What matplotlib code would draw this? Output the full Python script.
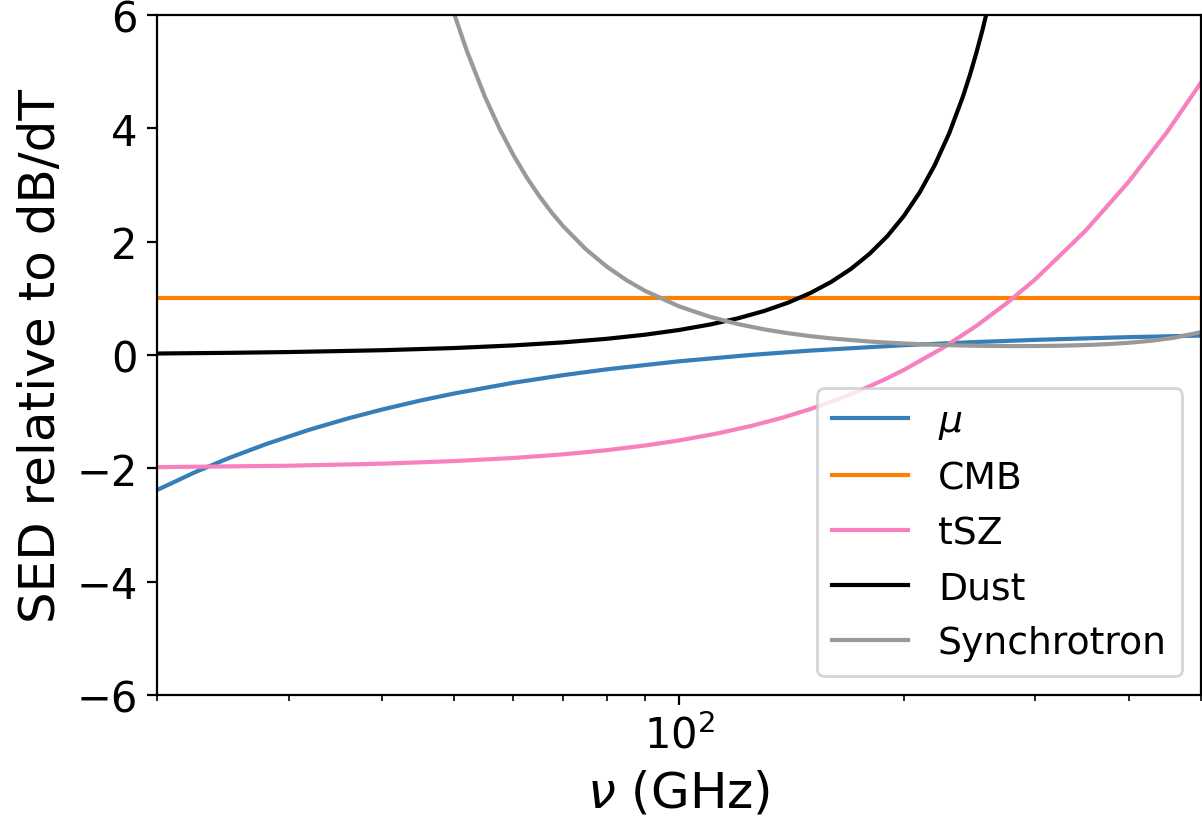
import matplotlib
matplotlib.use("Agg")
import matplotlib.pyplot as plt

# Frequency grids (GHz) and SED values relative to dB/dT for each component
freq_mu = [20, 22.5, 25, 28, 32, 36, 40, 45, 50, 60, 70, 80, 100, 125, 150,
           200, 250, 300, 400, 500]
sed_mu = [-2.383, -2.067, -1.815, -1.572, -1.318, -1.121, -0.963, -0.805,
          -0.679, -0.490, -0.355, -0.253, -0.111, 0.002, 0.078, 0.173,
          0.229, 0.267, 0.315, 0.343]

freq_cmb = [20, 500]
sed_cmb = [1.0, 1.0]

freq_tsz = [20, 30, 40, 50, 60, 70, 80, 90, 100, 112.5, 125, 137.5, 150,
            162.5, 175, 187.5, 200, 225, 250, 275, 300, 350, 400, 450, 500]
sed_tsz = [-1.979, -1.954, -1.918, -1.872, -1.817, -1.753, -1.680, -1.598,
           -1.508, -1.385, -1.251, -1.107, -0.953, -0.792, -0.622, -0.446,
           -0.264, 0.116, 0.511, 0.919, 1.336, 2.189, 3.056, 3.929, 4.807]

freq_dust = [20, 25, 30, 40, 50, 60, 70, 80, 90, 100, 110, 120, 130, 140,
             150, 160, 170, 180, 190, 200, 210, 220, 230, 240, 245, 250, 255,
             260, 265, 270]
sed_dust = [0.0264, 0.0383, 0.0519, 0.0841, 0.1231, 0.1693, 0.2231, 0.2856,
            0.3579, 0.4412, 0.5373, 0.6483, 0.7763, 0.9241, 1.0947, 1.2925,
            1.5214, 1.7870, 2.0945, 2.4526, 2.8678, 3.3503, 3.9097, 4.5613,
            4.9262, 5.3206, 5.7445, 6.2036, 6.6969, 7.2311]

freq_sync = [45, 46.5, 48, 50, 52, 55, 57.5, 60, 62.5, 65, 67.5, 70, 75, 80,
             85, 90, 100, 110, 120, 130, 140, 150, 160, 180, 200, 220, 240,
             260, 280, 300, 320, 340, 360, 380, 400, 430, 460, 500]
sed_sync = [8.228, 7.464, 6.793, 6.021, 5.363, 4.549, 3.996, 3.531, 3.138,
            2.804, 2.517, 2.270, 1.869, 1.562, 1.323, 1.134, 0.859, 0.674,
            0.545, 0.4525, 0.3839, 0.3322, 0.2926, 0.2374, 0.2029, 0.1811,
            0.1676, 0.1601, 0.1572, 0.1582, 0.1625, 0.1702, 0.1814, 0.1962,
            0.2152, 0.2529, 0.3046, 0.4034]

labels = [r"$\mu$", "CMB", "tSZ", "Dust", "Synchrotron"]
colors = ["#377eb8", "#ff7f00", "#f781bf", "black", "#999999"]

fig = plt.figure(figsize=(6.01, 4.10), dpi=200)
ax = fig.add_axes([157 / 1202, 1 - 696 / 820, (1201 - 157) / 1202, 680 / 820])

series = [(freq_mu, sed_mu), (freq_cmb, sed_cmb), (freq_tsz, sed_tsz),
          (freq_dust, sed_dust), (freq_sync, sed_sync)]
for (f, v), lab, col in zip(series, labels, colors):
    ax.plot(f, v, color=col, lw=1.5, label=lab)

ax.set_xscale("log")
ax.set_xlim(20, 500)
ax.set_ylim(-6, 6)
ax.set_yticks([-6, -4, -2, 0, 2, 4, 6])
ax.tick_params(labelsize=15)
ax.set_xlabel(r"$\nu$ (GHz)", fontsize=18)
ax.set_ylabel("SED relative to dB/dT", fontsize=18)
ax.legend(loc="lower right", fontsize=13.6)

fig.savefig("out.png", dpi=200)
